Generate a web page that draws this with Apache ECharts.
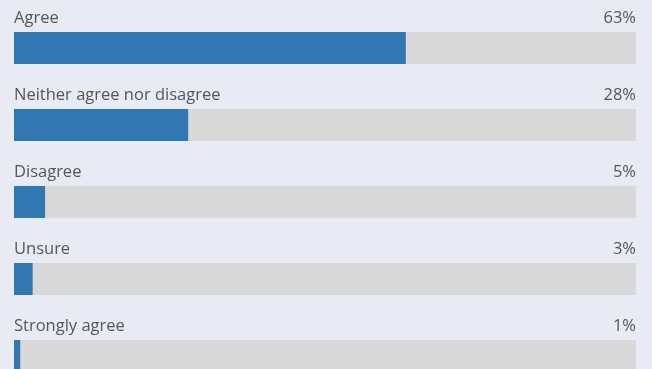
<!DOCTYPE html>
<html>
<head>
<meta charset="utf-8">
<style>
  html, body { margin: 0; padding: 0; background: #e9ebf4; overflow: hidden; }
  #chart { width: 652px; height: 400px; }
</style>
<script src="https://cdn.jsdelivr.net/npm/echarts@6/dist/echarts.min.js"></script>
</head>
<body>
<div id="chart"></div>
<script>
// Survey responses, share of respondents (%)
const categories = ['Agree', 'Neither agree nor disagree', 'Disagree', 'Unsure', 'Strongly agree'];
const values = [63, 28, 5, 3, 1];
const fullScale = [100, 100, 100, 100, 100];

const textStyle = { fontFamily: 'Open Sans', fontSize: 16.5, color: '#555555' };

const chart = echarts.init(document.getElementById('chart'), null, { renderer: 'canvas' });
chart.setOption({
  backgroundColor: '#e9ebf4',
  animation: false,
  grid: { left: 14, top: 9.5, width: 622, height: 385, containLabel: false },
  xAxis: { type: 'value', min: 0, max: 100, show: false },
  yAxis: { type: 'category', data: categories, inverse: true, show: false },
  series: [
    {
      // track + category name
      type: 'bar',
      data: fullScale,
      barWidth: 32,
      itemStyle: { color: '#d8d8d8' },
      label: {
        show: true,
        position: [0, -5],
        align: 'left',
        verticalAlign: 'bottom',
        formatter: p => categories[p.dataIndex],
        ...textStyle
      },
      silent: true
    },
    {
      // filled share
      type: 'bar',
      data: values,
      barWidth: 32,
      barGap: '-100%',
      itemStyle: { color: '#3178b3' }
    },
    {
      // percent label, pinned to the right end of the track
      type: 'bar',
      data: fullScale,
      barWidth: 32,
      barGap: '-100%',
      itemStyle: { color: 'transparent' },
      label: {
        show: true,
        position: ['100%', -5],
        align: 'right',
        verticalAlign: 'bottom',
        formatter: p => values[p.dataIndex] + '%',
        ...textStyle
      },
      silent: true
    }
  ]
});
</script>
</body>
</html>
